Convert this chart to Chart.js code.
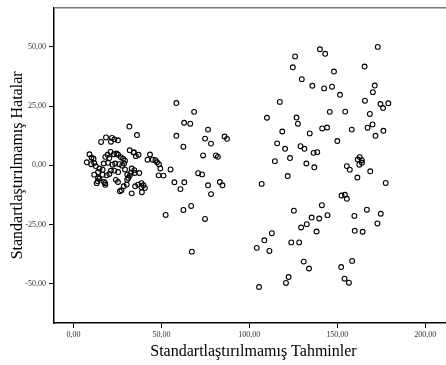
<!DOCTYPE html>
<html lang="tr">
<head>
  <meta charset="UTF-8" />
  <title>Artık Grafiği</title>
  <style>
    * {
      box-sizing: border-box;
      margin: 0;
      padding: 0;
    }

    html, body {
      width: 446px;
      height: 365px;
      overflow: hidden;
      background-color: #ffffff;
    }

    canvas {
      display: block;
    }
  </style>
</head>
<body>
  <canvas id="residChart" width="458" height="365"></canvas>

  <script src="https://cdn.jsdelivr.net/npm/chart.js"></script>
  <script>
    // tahmin edilen değerler (x) ve artıklar (y), aynı sırada
    const predicted = [
      // sol küme
      31.8, 36.1, 15.7, 18.5, 21.9, 23.3, 25.3, 21.3, 32.0, 34.2, 37.0, 35.5, 42.1, 43.5, 45.1, 46.6, 47.5, 48.6, 49.4, 48.4,
      51.2, 9.1, 10.3, 11.4, 7.6, 10.1, 11.8, 19.4, 21.1, 23.0, 24.5, 25.4, 26.9, 28.2, 29.3, 18.1, 20.4, 17.2, 19.6, 22.2,
      23.7, 26.0, 27.7, 28.8, 12.7, 14.8, 14.0, 16.6, 21.3, 23.2, 25.4, 29.3, 33.1, 34.6, 32.7, 34.8, 11.8, 14.0, 16.6, 18.9,
      20.4, 30.6, 31.2, 30.5, 32.0, 37.4, 13.8, 13.2, 17.4, 18.0, 24.1, 25.3, 36.8, 38.7, 39.8, 40.6, 38.7, 35.1, 28.6, 30.3,
      27.3, 26.4, 33.1, 38.9, 14.8, 18.1, 34.4,
      // orta bölge
      58.5, 62.9, 66.4, 68.6, 76.5, 58.5, 62.5, 74.8, 78.2, 81.0, 73.7, 55.2, 70.9, 73.1, 57.4, 63.0, 76.5, 78.2, 60.8, 66.9,
      62.5, 74.8, 52.4, 67.3, 85.9, 87.3, 82.1, 83.2, 84.7,
      // sağ küme
      140.1, 143.1, 126.0, 124.7, 148.1, 129.8, 135.8, 142.5, 147.0, 117.3, 110.0, 126.8, 127.6, 145.7, 118.7, 134.3, 141.4, 144.2,
      115.8, 120.3, 129.1, 131.3, 136.5, 138.6, 114.5, 123.1, 132.4, 136.9, 121.8, 107.0, 141.2, 125.3, 144.4, 135.4, 139.7,
      132.6, 129.4, 138.2, 112.8, 108.5, 104.2, 111.4, 123.8, 128.3, 130.9, 133.9, 122.3, 120.8, 105.5, 152.2, 158.4, 154.1,
      156.6, 173.0, 165.5, 151.5, 171.3, 170.2, 165.7, 174.5, 179.0, 176.0, 154.5, 168.5, 158.2, 167.2, 170.0, 176.2, 171.7,
      150.0, 162.7, 161.6, 163.9, 164.0, 162.5, 155.4, 157.1, 168.7, 161.4, 177.5, 152.4, 154.3, 155.4, 159.7, 166.8, 174.7,
      172.8, 159.9, 164.4
    ];

    const residuals = [
      16.4, 12.8, 9.9, 11.8, 11.6, 11.0, 10.6, 10.0, 6.4, 5.4, 4.5, 3.9, 2.4, 4.6, 2.4, 2.2, 1.3, 0.5, -1.3, -4.2,
      -4.3, 4.7, 3.3, 2.8, 1.3, 0.5, 1.0, 4.5, 5.7, 4.7, 5.0, 4.5, 3.5, 2.8, 2.0, 3.6, 3.1, 0.8, 1.1, 0.3,
      0.8, 0.5, -0.1, 0.8, -0.3, -1.3, -2.8, -1.8, -2.2, -2.2, -2.8, -1.7, -1.3, -2.0, -3.1, -3.2, -3.9, -5.3, -3.9, -4.2,
      -3.6, -3.9, -5.3, -6.1, -4.3, -3.2, -6.7, -7.5, -7.0, -7.5, -6.1, -7.0, -8.1, -7.5, -8.4, -9.5, -9.2, -8.8, -8.8, -8.1,
      -10.5, -10.9, -11.8, -11.3, -5.6, -8.2, 5.6,
      26.3, 18.0, 17.6, 22.6, 15.1, 12.5, 7.9, 11.3, 9.2, 4.2, 4.2, -1.7, -3.3, -3.8, -7.1, -7.1, -8.4, -12.1, -10.0, -17.1,
      -18.8, -22.6, -20.9, -36.4, 12.2, 11.2, 3.6, -7.0, -8.4,
      49.0, 47.1, 46.0, 41.4, 39.6, 36.4, 33.6, 32.5, 33.2, 26.8, 20.1, 20.2, 17.6, 22.6, 14.3, 13.5, 15.6, 16.0,
      9.3, 7.0, 8.1, 7.0, 5.3, 5.6, 1.8, 3.1, 0.8, -0.8, -4.5, -7.8, -16.8, -19.1, -21.0, -22.0, -22.4,
      -24.8, -26.2, -27.9, -28.6, -31.6, -34.8, -36.1, -32.5, -32.5, -40.6, -43.5, -47.1, -49.6, -51.3, -42.9, -40.3, -47.8,
      -49.5, 50.0, 41.7, 29.8, 33.7, 30.9, 27.3, 25.9, 26.2, 24.2, 22.7, 21.7, 15.1, 15.9, 17.3, 14.6, 12.5,
      10.3, 3.5, 2.5, 2.2, 1.1, 0.3, -0.3, -1.8, -2.5, -5.1, -7.4, -12.7, -12.4, -14.1, -21.3, -18.7, -20.4,
      -24.5, -27.6, -28.0
    ];

    const xTicks = [0, 50, 100, 150, 200];
    const yTicks = [-50, -25, 0, 25, 50];

    const points = predicted.map((x, i) => ({ x: x, y: residuals[i] }));

    // virgüllü ondalık: 50,00
    const fmt = v => v.toFixed(2).replace('.', ',');

    // grafiğin üst kenarındaki gri çizgi
    const topFrame = {
      id: 'topFrame',
      afterDraw(chart) {
        const { ctx, chartArea } = chart;
        ctx.save();
        ctx.strokeStyle = '#7a7a7a';
        ctx.lineWidth = 1.5;
        ctx.beginPath();
        ctx.moveTo(chartArea.left, chartArea.top);
        ctx.lineTo(chartArea.right, chartArea.top);
        ctx.stroke();
        ctx.restore();
      }
    };

    const ctx = document.getElementById('residChart').getContext('2d');
    new Chart(ctx, {
      type: 'scatter',
      data: {
        datasets: [{
          data: points,
          pointStyle: 'circle',
          pointRadius: 2.4,
          pointBorderWidth: 1.1,
          pointBorderColor: '#000000',
          pointBackgroundColor: 'rgba(255,255,255,0)'
        }]
      },
      plugins: [topFrame],
      options: {
        responsive: false,
        animation: false,
        layout: { padding: { top: 5, right: 0, left: 0, bottom: 0 } },
        plugins: {
          legend: { display: false },
          tooltip: { enabled: false }
        },
        scales: {
          x: {
            type: 'linear',
            min: -11.06,
            max: 215.7,
            afterFit: s => { s.height = 42; },
            afterBuildTicks: s => { s.ticks = xTicks.map(v => ({ value: v })); },
            border: { display: true, color: '#000000', width: 1.5 },
            grid: { display: true, drawOnChartArea: false, drawTicks: true, tickLength: 5, color: '#000000' },
            ticks: {
              padding: 2,
              maxRotation: 0,
              color: '#333333',
              font: { family: 'Liberation Serif', size: 8 },
              callback: v => fmt(v)
            },
            title: {
              display: true,
              text: 'Standartlaştırılmamış Tahminler',
              color: '#000000',
              padding: { top: 0, bottom: 4 },
              font: { family: 'Liberation Serif', size: 16 }
            }
          },
          y: {
            type: 'linear',
            min: -66.5,
            max: 66.5,
            afterFit: s => { s.width = 54; },
            afterBuildTicks: s => { s.ticks = yTicks.map(v => ({ value: v })); },
            border: { display: true, color: '#000000', width: 1.5 },
            grid: { display: true, drawOnChartArea: false, drawTicks: true, tickLength: 5, color: '#000000' },
            ticks: {
              padding: 3,
              color: '#333333',
              font: { family: 'Liberation Serif', size: 8 },
              callback: v => fmt(v)
            },
            title: {
              display: true,
              text: 'Standartlaştırılmamış Hatalar',
              color: '#000000',
              padding: { top: 8, bottom: 0 },
              font: { family: 'Liberation Serif', size: 16 }
            }
          }
        }
      }
    });
  </script>
</body>
</html>
